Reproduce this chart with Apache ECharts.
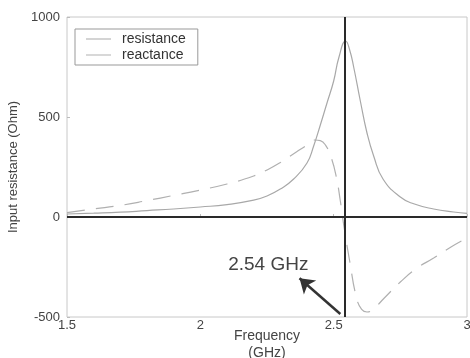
<!DOCTYPE html>
<html><head><meta charset="utf-8">
<script src="https://cdn.jsdelivr.net/npm/echarts@6/dist/echarts.min.js"></script>
<style>html,body{margin:0;padding:0;background:#fff}#c{width:470px;height:358px}</style>
</head><body><div id="c"></div>
<script>
const resFreq = [1.5,1.6,1.7,1.8,1.9,2.0,2.1,2.2,2.25,2.3,2.35,2.4,2.425,2.45,2.475,2.5,2.52,2.545,2.56,2.575,2.6,2.625,2.65,2.685,2.75,2.8,2.875,2.95,3.0];
const resistance = [15,19,24,32,40,50,62,84,105,140,190,270,355,460,570,680,800,880,835,750,580,420,305,190,100,66,40,25,18];
const reaFreq = [1.5,1.6,1.7,1.8,1.9,2.0,2.1,2.2,2.25,2.3,2.36,2.4,2.43,2.45,2.47,2.49,2.51,2.525,2.54,2.56,2.585,2.605,2.625,2.65,2.69,2.75,2.81,2.875,2.94,3.0];
const reactance = [22,40,58,82,108,135,165,205,235,272,325,360,385,382,358,300,200,80,-60,-220,-400,-462,-475,-458,-405,-325,-258,-205,-150,-105];
const xTicks = [1.5, 2, 2.5, 3];
const yTicks = [-500, 0, 500, 1000];
const resonance = 2.54;
const annotText = '2.54 GHz';

const chart = echarts.init(document.getElementById('c'));
const font = 'Liberation Sans, Arial, sans-serif';
chart.setOption({
  animation: false,
  textStyle: {fontFamily: font},
  grid: {left: 67, right: 3, top: 17, bottom: 41, show: true, borderColor: '#c8c8c8', borderWidth: 1,
         containLabel: false, outerBoundsMode: 'none'},
  legend: {
    left: 75, top: 29, orient: 'vertical', borderColor: '#999', borderWidth: 1,
    padding: [3, 12, 3, 11], itemGap: 2, itemWidth: 25, itemHeight: 1,
    textStyle: {fontSize: 14, color: '#333', fontFamily: font, padding: [0, 0, 0, 6]},
    data: [{name: 'resistance', icon: 'rect'}, {name: 'reactance', icon: 'rect'}]
  },
  xAxis: {
    type: 'value', min: xTicks[0], max: xTicks[xTicks.length-1], interval: 0.5,
    name: 'Frequency\n(GHz)', nameLocation: 'middle', nameGap: 11, nameMoveOverlap: false,
    nameTextStyle: {fontSize: 14, color: '#444', lineHeight: 17, verticalAlign: 'top'},
    axisLine: {show: false}, splitLine: {show: false},
    axisTick: {show: true, inside: true, length: 3, lineStyle: {color: '#bbb'}},
    axisLabel: {fontSize: 13, color: '#444', margin: 2, formatter: v => String(v)}
  },
  yAxis: {
    type: 'value', min: yTicks[0], max: yTicks[yTicks.length-1], interval: 500,
    name: 'Input resistance (Ohm)', nameLocation: 'middle', nameGap: 40,
    nameTextStyle: {fontSize: 13, color: '#444'},
    axisLine: {show: false}, splitLine: {show: false},
    axisTick: {show: true, inside: true, length: 3, lineStyle: {color: '#bbb'}},
    axisLabel: {fontSize: 13, color: '#444', margin: 7, formatter: v => String(v)}
  },
  series: [
    {
      name: 'resistance', type: 'line', symbol: 'none', smooth: 0.5,
      lineStyle: {color: '#a8a8a8', width: 1.2},
      itemStyle: {color: '#a8a8a8'},
      data: resFreq.map((f, i) => [f, resistance[i]]),
      markLine: {
        silent: true, symbol: 'none', animation: false,
        label: {show: false},
        lineStyle: {color: '#2a2a2a', width: 2, type: 'solid'},
        data: [{yAxis: 0}, {xAxis: resonance}]
      }
    },
    {
      name: 'reactance', type: 'line', symbol: 'none', smooth: 0.5,
      lineStyle: {color: '#b0b0b0', width: 1.2, type: [18, 11]},
      itemStyle: {color: '#b0b0b0'},
      data: reaFreq.map((f, i) => [f, reactance[i]]),
      markLine: {
        silent: true, animation: false, symbol: ['none', 'arrow'], symbolSize: [14, 14],
        label: {show: false},
        lineStyle: {color: '#333', width: 2.5, type: 'solid'},
        data: [[{coord: [2.525, -485]}, {coord: [2.372, -306]}]]
      },
      markPoint: {
        silent: true, symbol: 'circle', symbolSize: 0,
        label: {show: true, formatter: annotText, fontSize: 19, color: '#444', fontFamily: font},
        data: [{coord: [2.255, -240]}]
      }
    }
  ]
});
</script></body></html>
